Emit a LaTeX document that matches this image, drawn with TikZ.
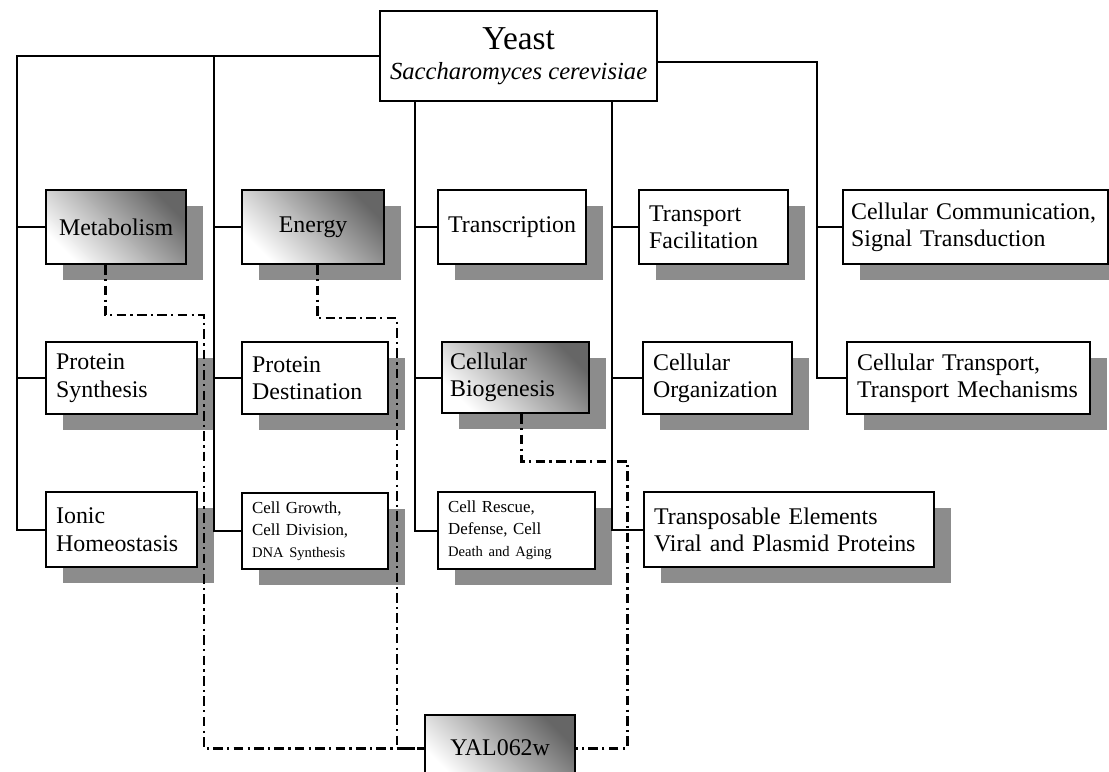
\documentclass[tikz,border=0pt]{standalone}
\usepackage{fontspec}
\setmainfont{Liberation Serif}
\usetikzlibrary{shadows,calc}
\newcommand\fA{\fontsize{13.6}{15.5}\selectfont}
\newcommand\fI{\fontsize{14}{16}\selectfont}
\newcommand\fY{\fontsize{19}{21}\selectfont}
\newcommand\fS{\fontsize{9.6}{12.5}\selectfont}
\newcommand\fT{\fontsize{8.3}{12.5}\selectfont}
\begin{document}
\begin{tikzpicture}[x=0.02cm,y=-0.02cm,
  plain/.style={draw, line width=1.3pt, fill=white, rectangle, anchor=north west,
    inner xsep=0.2cm, inner ysep=0pt, font=\fA, align=left},
  box/.style={plain, drop shadow={shadow xshift=9.6pt, shadow yshift=-9pt, opacity=1, fill=black!45}},
  grad/.style={top color=black!60, bottom color=white, shading angle=-45},
  conn/.style={line width=1.1pt},
  dd/.style={line width=1.7pt, dash pattern=on 5.5pt off 2.4pt on 1.3pt off 2.4pt}]
\useasboundingbox (0,0) rectangle (1109,771);
\fill[white] (0,0) rectangle (1109,771);

% root
\node[plain, align=center, minimum width=5.42cm, minimum height=1.8cm] (yeast) at (379,10)
  {{\fY Yeast}\\[2pt]{\fI\itshape Saccharomyces cerevisiae}};

% row 1
\node[box, grad, align=center, minimum width=2.8cm, minimum height=1.48cm] (metab) at (45,189) {Metabolism};
\node[box, grad, align=center, minimum width=2.84cm, minimum height=1.48cm] (energy) at (241,189) {Energy};
\node[box, align=center, minimum width=2.96cm, minimum height=1.48cm, inner xsep=0.1cm] (transc) at (437,189) {Transcription};
\node[box, minimum width=2.98cm, text width=2.58cm, minimum height=1.48cm] (tfac) at (638,189) {Transport\\Facilitation};
\node[box, minimum width=5.3cm, text width=4.98cm, minimum height=1.48cm, inner xsep=0.16cm] (ccomm) at (842,189) {Cellular Communication,\\Signal Transduction};

% row 2
\node[box, minimum width=3.02cm, text width=2.62cm, minimum height=1.44cm] (psyn) at (45,341) {Protein\\Synthesis};
\node[box, minimum width=2.92cm, text width=2.52cm, minimum height=1.44cm] (pdest) at (241,341) {Protein\\Destination};
\node[box, grad, minimum width=2.94cm, text width=2.62cm, minimum height=1.42cm, inner xsep=0.16cm] (cbio) at (441,341) {Cellular\\Biogenesis};
\node[box, minimum width=2.98cm, text width=2.58cm, minimum height=1.44cm] (corg) at (642,341) {Cellular\\Organization};
\node[box, minimum width=4.86cm, text width=4.46cm, minimum height=1.44cm] (ctrans) at (846,341) {Cellular Transport,\\Transport Mechanisms};

% row 3
\node[box, minimum width=3.02cm, text width=2.62cm, minimum height=1.5cm] (ionic) at (45,491) {Ionic\\Homeostasis};
\node[box, minimum width=2.92cm, text width=2.52cm, minimum height=1.52cm, font=\fS] (cgrow) at (241,492) {Cell Growth,\\Cell Division,\\{\fT DNA Synthesis}};
\node[box, minimum width=3.14cm, text width=2.74cm, minimum height=1.54cm, font=\fS] (cresc) at (437,491) {Cell Rescue,\\Defense, Cell\\{\fT Death and Aging}};
\node[box, minimum width=5.8cm, text width=5.4cm, minimum height=1.5cm] (transp) at (643,491) {Transposable Elements\\Viral and Plasmid Proteins};

% target gene
\node[plain, grad, align=center, minimum width=3.0cm, minimum height=1.32cm] (yal) at (424,714) {YAL062w};

% tree connectors
\coordinate (tA) at (17,0);
\coordinate (tB) at (214,0);
\coordinate (tC) at (415,0);
\coordinate (tD) at (612,0);
\coordinate (tE) at (817,0);
\draw[conn] (yeast.west) -| (tA |- ionic.west) -- (ionic.west);
\draw[conn] (tA |- metab.west) -- (metab.west);
\draw[conn] (tA |- psyn.west) -- (psyn.west);
\draw[conn] (tB |- yeast.west) -- (tB |- cgrow.west) -- (cgrow.west);
\draw[conn] (tB |- energy.west) -- (energy.west);
\draw[conn] (tB |- pdest.west) -- (pdest.west);
\draw[conn] (tC |- yeast.south) -- (tC |- cresc.west) -- (cresc.west);
\draw[conn] (tC |- transc.west) -- (transc.west);
\draw[conn] (tC |- cbio.west) -- (cbio.west);
\draw[conn] (tD |- yeast.south) -- (tD |- transp.west) -- (transp.west);
\draw[conn] (tD |- tfac.west) -- (tfac.west);
\draw[conn] (tD |- corg.west) -- (corg.west);
\draw[conn] ($(yeast.east)+(0,6)$) -| (tE |- ctrans.west) -- (ctrans.west);
\draw[conn] (tE |- ccomm.west) -- (ccomm.west);

% dash-dot links to YAL062w
\coordinate (d1) at (204,315);
\coordinate (d2) at (397,318);
\coordinate (d3) at (627,461);
\draw[dd] ($(metab.south)+(-11,0)$) |- (d1) |- (yal.west);
\draw[dd] ($(energy.south)+(4,0)$) |- (d2) |- (yal.west);
\draw[dd] ($(cbio.south)+(5.5,0)$) |- (d3) |- (yal.east);
\end{tikzpicture}
\end{document}
